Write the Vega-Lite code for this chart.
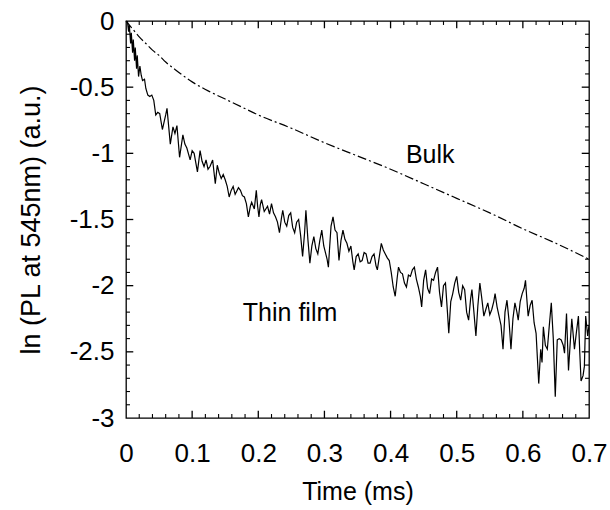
{
  "$schema": "https://vega.github.io/schema/vega-lite/v6.json",
  "width": 463,
  "height": 397,
  "autosize": {"type": "none"},
  "padding": {"left": 126, "top": 21, "right": 21, "bottom": 92},
  "background": "white",
  "config": {
    "view": {"stroke": "black", "strokeWidth": 1.3},
    "axis": {
      "labelFont": "Liberation Sans",
      "titleFont": "Liberation Sans",
      "labelColor": "black",
      "titleColor": "black",
      "domain": false,
      "ticks": false,
      "grid": false,
      "titleFontWeight": "normal",
      "labelFontSize": 26
    }
  },
  "datasets": {
    "thin": [
      {"t":0.002,"v":0},{"t":0.004,"v":-0.08},{"t":0.005,"v":-0.03},{"t":0.007,"v":-0.17},{"t":0.008,"v":-0.09},
      {"t":0.010,"v":-0.24},{"t":0.011,"v":-0.14},{"t":0.013,"v":-0.30},{"t":0.014,"v":-0.20},{"t":0.016,"v":-0.36},
      {"t":0.017,"v":-0.26},{"t":0.019,"v":-0.42},{"t":0.021,"v":-0.34},{"t":0.023,"v":-0.41},{"t":0.025,"v":-0.45},
      {"t":0.028,"v":-0.44},{"t":0.030,"v":-0.51},{"t":0.033,"v":-0.56},{"t":0.036,"v":-0.57},{"t":0.039,"v":-0.56},
      {"t":0.042,"v":-0.60},{"t":0.045,"v":-0.71},{"t":0.048,"v":-0.69},{"t":0.051,"v":-0.70},{"t":0.055,"v":-0.82},
      {"t":0.060,"v":-0.71},{"t":0.062,"v":-0.66},{"t":0.067,"v":-0.93},{"t":0.071,"v":-0.80},{"t":0.074,"v":-0.85},
      {"t":0.077,"v":-0.79},{"t":0.081,"v":-1.03},{"t":0.086,"v":-0.86},{"t":0.089,"v":-0.93},{"t":0.092,"v":-0.96},
      {"t":0.097,"v":-1.05},{"t":0.100,"v":-0.98},{"t":0.103,"v":-1.00},{"t":0.108,"v":-1.14},{"t":0.112,"v":-0.98},
      {"t":0.115,"v":-1.06},{"t":0.118,"v":-1.10},{"t":0.121,"v":-1.05},{"t":0.124,"v":-1.12},{"t":0.127,"v":-1.10},
      {"t":0.131,"v":-1.05},{"t":0.135,"v":-1.23},{"t":0.138,"v":-1.09},{"t":0.141,"v":-1.15},{"t":0.144,"v":-1.19},
      {"t":0.147,"v":-1.16},{"t":0.150,"v":-1.20},{"t":0.153,"v":-1.25},{"t":0.156,"v":-1.33},{"t":0.159,"v":-1.28},
      {"t":0.162,"v":-1.25},{"t":0.165,"v":-1.31},{"t":0.167,"v":-1.29},{"t":0.170,"v":-1.26},{"t":0.173,"v":-1.28},
      {"t":0.176,"v":-1.32},{"t":0.179,"v":-1.33},{"t":0.182,"v":-1.38},{"t":0.185,"v":-1.48},{"t":0.188,"v":-1.40},
      {"t":0.190,"v":-1.37},{"t":0.194,"v":-1.42},{"t":0.197,"v":-1.28},{"t":0.199,"v":-1.40},{"t":0.201,"v":-1.48},
      {"t":0.203,"v":-1.39},{"t":0.205,"v":-1.35},{"t":0.209,"v":-1.44},{"t":0.214,"v":-1.40},{"t":0.217,"v":-1.46},
      {"t":0.220,"v":-1.38},{"t":0.223,"v":-1.45},{"t":0.226,"v":-1.48},{"t":0.229,"v":-1.52},{"t":0.232,"v":-1.60},
      {"t":0.235,"v":-1.49},{"t":0.237,"v":-1.43},{"t":0.240,"v":-1.52},{"t":0.243,"v":-1.55},{"t":0.246,"v":-1.47},
      {"t":0.249,"v":-1.45},{"t":0.252,"v":-1.56},{"t":0.255,"v":-1.60},{"t":0.258,"v":-1.52},{"t":0.261,"v":-1.50},
      {"t":0.264,"v":-1.62},{"t":0.267,"v":-1.78},{"t":0.270,"v":-1.60},{"t":0.272,"v":-1.43},{"t":0.275,"v":-1.65},
      {"t":0.278,"v":-1.83},{"t":0.281,"v":-1.70},{"t":0.284,"v":-1.63},{"t":0.287,"v":-1.72},{"t":0.290,"v":-1.76},
      {"t":0.293,"v":-1.66},{"t":0.296,"v":-1.58},{"t":0.299,"v":-1.70},{"t":0.302,"v":-1.76},{"t":0.304,"v":-1.80},
      {"t":0.306,"v":-1.86},{"t":0.308,"v":-1.70},{"t":0.310,"v":-1.55},{"t":0.313,"v":-1.48},{"t":0.316,"v":-1.58},
      {"t":0.319,"v":-1.60},{"t":0.322,"v":-1.81},{"t":0.325,"v":-1.66},{"t":0.328,"v":-1.58},{"t":0.331,"v":-1.65},
      {"t":0.334,"v":-1.68},{"t":0.337,"v":-1.74},{"t":0.340,"v":-1.70},{"t":0.343,"v":-1.82},{"t":0.345,"v":-1.88},
      {"t":0.348,"v":-1.78},{"t":0.351,"v":-1.76},{"t":0.354,"v":-1.82},{"t":0.357,"v":-1.81},{"t":0.360,"v":-1.75},
      {"t":0.363,"v":-1.76},{"t":0.366,"v":-1.83},{"t":0.369,"v":-1.83},{"t":0.372,"v":-1.78},{"t":0.375,"v":-1.76},
      {"t":0.378,"v":-1.85},{"t":0.380,"v":-1.88},{"t":0.383,"v":-1.78},{"t":0.386,"v":-1.68},{"t":0.389,"v":-1.73},
      {"t":0.392,"v":-1.76},{"t":0.395,"v":-1.79},{"t":0.398,"v":-1.81},{"t":0.401,"v":-1.90},{"t":0.404,"v":-2.01},
      {"t":0.407,"v":-2.08},{"t":0.410,"v":-1.94},{"t":0.412,"v":-1.86},{"t":0.415,"v":-1.90},{"t":0.418,"v":-1.91},
      {"t":0.421,"v":-1.98},{"t":0.424,"v":-2.01},{"t":0.427,"v":-1.92},{"t":0.430,"v":-1.93},{"t":0.433,"v":-1.88},
      {"t":0.436,"v":-1.86},{"t":0.439,"v":-1.95},{"t":0.442,"v":-2.01},{"t":0.445,"v":-2.08},{"t":0.447,"v":-2.16},
      {"t":0.450,"v":-1.96},{"t":0.453,"v":-1.88},{"t":0.456,"v":-2.02},{"t":0.459,"v":-2.06},{"t":0.462,"v":-1.95},
      {"t":0.465,"v":-1.96},{"t":0.468,"v":-1.90},{"t":0.471,"v":-1.86},{"t":0.474,"v":-2.05},{"t":0.477,"v":-2.16},
      {"t":0.480,"v":-2.00},{"t":0.483,"v":-1.98},{"t":0.486,"v":-2.20},{"t":0.488,"v":-2.36},{"t":0.491,"v":-2.12},
      {"t":0.494,"v":-2.06},{"t":0.497,"v":-1.98},{"t":0.500,"v":-1.93},{"t":0.503,"v":-2.05},{"t":0.506,"v":-2.11},
      {"t":0.509,"v":-2.00},{"t":0.512,"v":-2.03},{"t":0.515,"v":-2.20},{"t":0.518,"v":-2.26},{"t":0.521,"v":-2.10},
      {"t":0.523,"v":-2.03},{"t":0.526,"v":-2.20},{"t":0.529,"v":-2.38},{"t":0.532,"v":-2.15},{"t":0.535,"v":-1.98},
      {"t":0.538,"v":-2.10},{"t":0.541,"v":-2.23},{"t":0.544,"v":-2.18},{"t":0.547,"v":-2.13},{"t":0.550,"v":-2.22},
      {"t":0.553,"v":-2.18},{"t":0.556,"v":-2.12},{"t":0.558,"v":-2.06},{"t":0.561,"v":-2.16},{"t":0.564,"v":-2.23},
      {"t":0.567,"v":-2.30},{"t":0.570,"v":-2.48},{"t":0.573,"v":-2.20},{"t":0.576,"v":-2.11},{"t":0.579,"v":-2.26},
      {"t":0.582,"v":-2.48},{"t":0.585,"v":-2.25},{"t":0.588,"v":-2.13},{"t":0.591,"v":-2.20},{"t":0.593,"v":-2.26},
      {"t":0.596,"v":-2.12},{"t":0.599,"v":-2.06},{"t":0.602,"v":-2.02},{"t":0.604,"v":-1.96},{"t":0.606,"v":-2.10},
      {"t":0.608,"v":-2.23},{"t":0.611,"v":-2.15},{"t":0.614,"v":-2.11},{"t":0.617,"v":-2.28},{"t":0.620,"v":-2.36},
      {"t":0.622,"v":-2.55},{"t":0.624,"v":-2.74},{"t":0.627,"v":-2.48},{"t":0.629,"v":-2.58},{"t":0.631,"v":-2.31},
      {"t":0.634,"v":-2.45},{"t":0.637,"v":-2.48},{"t":0.640,"v":-2.30},{"t":0.643,"v":-2.13},{"t":0.646,"v":-2.40},
      {"t":0.649,"v":-2.84},{"t":0.652,"v":-2.41},{"t":0.655,"v":-2.40},{"t":0.658,"v":-2.41},{"t":0.661,"v":-2.45},
      {"t":0.663,"v":-2.51},{"t":0.666,"v":-2.21},{"t":0.669,"v":-2.64},{"t":0.672,"v":-2.40},{"t":0.674,"v":-2.25},
      {"t":0.678,"v":-2.48},{"t":0.681,"v":-2.35},{"t":0.684,"v":-2.23},{"t":0.686,"v":-2.50},{"t":0.688,"v":-2.72},
      {"t":0.691,"v":-2.68},{"t":0.693,"v":-2.61},{"t":0.695,"v":-2.23},{"t":0.698,"v":-2.38},{"t":0.700,"v":-2.30}
    ],
    "bulk": [
      {"t":0,"v":0},{"t":0.01,"v":-0.06},{"t":0.02,"v":-0.12},{"t":0.03,"v":-0.17},{"t":0.04,"v":-0.22},
      {"t":0.05,"v":-0.26},{"t":0.06,"v":-0.31},{"t":0.075,"v":-0.37},{"t":0.1,"v":-0.46},{"t":0.125,"v":-0.53},
      {"t":0.15,"v":-0.59},{"t":0.175,"v":-0.65},{"t":0.2,"v":-0.71},{"t":0.25,"v":-0.81},{"t":0.3,"v":-0.92},
      {"t":0.35,"v":-1.02},{"t":0.4,"v":-1.12},{"t":0.45,"v":-1.23},{"t":0.5,"v":-1.34},{"t":0.55,"v":-1.45},
      {"t":0.6,"v":-1.57},{"t":0.65,"v":-1.68},{"t":0.7,"v":-1.8}
    ],
    "xmajor": [{"t":0.1},{"t":0.2},{"t":0.3},{"t":0.4},{"t":0.5},{"t":0.6}],
    "xminor": [
      {"t":0.02},{"t":0.04},{"t":0.06},{"t":0.08},{"t":0.12},{"t":0.14},{"t":0.16},{"t":0.18},
      {"t":0.22},{"t":0.24},{"t":0.26},{"t":0.28},{"t":0.32},{"t":0.34},{"t":0.36},{"t":0.38},
      {"t":0.42},{"t":0.44},{"t":0.46},{"t":0.48},{"t":0.52},{"t":0.54},{"t":0.56},{"t":0.58},
      {"t":0.62},{"t":0.64},{"t":0.66},{"t":0.68}
    ],
    "ymajor": [{"v":-0.5},{"v":-1},{"v":-1.5},{"v":-2},{"v":-2.5}],
    "yminor": [
      {"v":-0.1},{"v":-0.2},{"v":-0.3},{"v":-0.4},{"v":-0.6},{"v":-0.7},{"v":-0.8},{"v":-0.9},
      {"v":-1.1},{"v":-1.2},{"v":-1.3},{"v":-1.4},{"v":-1.6},{"v":-1.7},{"v":-1.8},{"v":-1.9},
      {"v":-2.1},{"v":-2.2},{"v":-2.3},{"v":-2.4},{"v":-2.6},{"v":-2.7},{"v":-2.8},{"v":-2.9}
    ]
  },
  "layer": [
    {
      "data": {"name": "thin"},
      "mark": {"type": "line", "color": "black", "strokeWidth": 1.2, "clip": true},
      "encoding": {
        "x": {
          "field": "t", "type": "quantitative",
          "scale": {"domain": [0, 0.7], "nice": false, "zero": false},
          "axis": {
            "orient": "bottom",
            "title": "Time (ms)",
            "titleFontSize": 25,
            "titlePadding": 13,
            "values": [0,0.1,0.2,0.3,0.4,0.5,0.6,0.7],
            "labelExpr": "toString(datum.value)",
            "labelPadding": 22,
            "labelFlush": false,
            "labelOverlap": false
          }
        },
        "y": {
          "field": "v", "type": "quantitative",
          "scale": {"domain": [-3, 0], "nice": false, "zero": false},
          "axis": {
            "orient": "left",
            "title": "ln (PL at 545nm) (a.u.)",
            "titleFontSize": 27,
            "titlePadding": 24,
            "values": [0,-0.5,-1,-1.5,-2,-2.5,-3],
            "labelExpr": "toString(datum.value)",
            "labelPadding": 12,
            "labelFlush": false,
            "labelOverlap": false
          }
        }
      }
    },
    {
      "data": {"name": "bulk"},
      "mark": {"type": "line", "color": "black", "strokeWidth": 1.2, "strokeDash": [9, 3, 2, 3], "interpolate": "monotone"},
      "encoding": {
        "x": {"field": "t", "type": "quantitative"},
        "y": {"field": "v", "type": "quantitative"}
      }
    },
    {
      "data": {"name": "xmajor"},
      "mark": {"type": "rule", "color": "black", "strokeWidth": 1.3},
      "encoding": {
        "x": {"field": "t", "type": "quantitative"},
        "y": {"datum": -3, "type": "quantitative"},
        "y2": {"datum": -2.945}
      }
    },
    {
      "data": {"name": "xmajor"},
      "mark": {"type": "rule", "color": "black", "strokeWidth": 1.3},
      "encoding": {
        "x": {"field": "t", "type": "quantitative"},
        "y": {"datum": 0, "type": "quantitative"},
        "y2": {"datum": -0.055}
      }
    },
    {
      "data": {"name": "xminor"},
      "mark": {"type": "rule", "color": "black", "strokeWidth": 1.1},
      "encoding": {
        "x": {"field": "t", "type": "quantitative"},
        "y": {"datum": -3, "type": "quantitative"},
        "y2": {"datum": -2.97}
      }
    },
    {
      "data": {"name": "xminor"},
      "mark": {"type": "rule", "color": "black", "strokeWidth": 1.1},
      "encoding": {
        "x": {"field": "t", "type": "quantitative"},
        "y": {"datum": 0, "type": "quantitative"},
        "y2": {"datum": -0.03}
      }
    },
    {
      "data": {"name": "ymajor"},
      "mark": {"type": "rule", "color": "black", "strokeWidth": 1.3},
      "encoding": {
        "y": {"field": "v", "type": "quantitative"},
        "x": {"datum": 0, "type": "quantitative"},
        "x2": {"datum": 0.011}
      }
    },
    {
      "data": {"name": "ymajor"},
      "mark": {"type": "rule", "color": "black", "strokeWidth": 1.3},
      "encoding": {
        "y": {"field": "v", "type": "quantitative"},
        "x": {"datum": 0.7, "type": "quantitative"},
        "x2": {"datum": 0.689}
      }
    },
    {
      "data": {"name": "yminor"},
      "mark": {"type": "rule", "color": "black", "strokeWidth": 1.1},
      "encoding": {
        "y": {"field": "v", "type": "quantitative"},
        "x": {"datum": 0, "type": "quantitative"},
        "x2": {"datum": 0.006}
      }
    },
    {
      "data": {"name": "yminor"},
      "mark": {"type": "rule", "color": "black", "strokeWidth": 1.1},
      "encoding": {
        "y": {"field": "v", "type": "quantitative"},
        "x": {"datum": 0.7, "type": "quantitative"},
        "x2": {"datum": 0.694}
      }
    },
    {
      "data": {"values": [{"t": 0.46, "v": -1.01, "label": "Bulk"}, {"t": 0.248, "v": -2.21, "label": "Thin film"}]},
      "mark": {"type": "text", "font": "Liberation Sans", "fontSize": 25, "color": "black", "align": "center", "baseline": "middle"},
      "encoding": {
        "x": {"field": "t", "type": "quantitative"},
        "y": {"field": "v", "type": "quantitative"},
        "text": {"field": "label"}
      }
    }
  ]
}
